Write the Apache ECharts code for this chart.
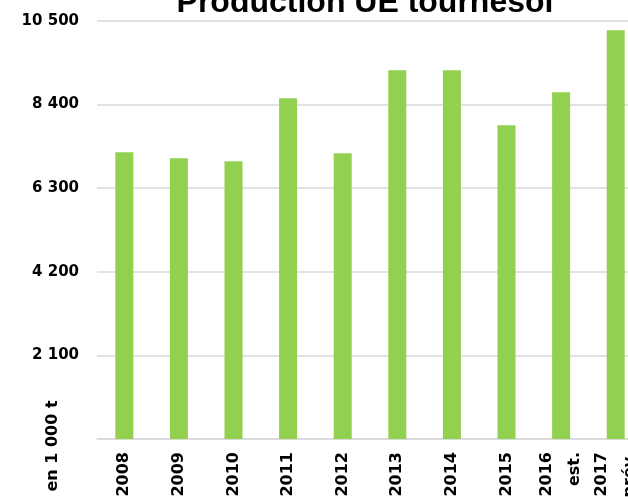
<!DOCTYPE html>
<html>
<head>
<meta charset="utf-8">
<script src="https://cdn.jsdelivr.net/npm/echarts@6/dist/echarts.min.js"></script>
<style>
html, body { margin: 0; padding: 0; background: #fff; }
#chart { width: 628px; height: 497px; }
</style>
</head>
<body>
<div id="chart"></div>
<script>
// Production UE tournesol, en 1 000 t
var years = ['2008', '2009', '2010', '2011', '2012', '2013', '2014', '2015', '2016\nest.', '2017\nprév.'];
var production = [7200, 7050, 6980, 8560, 7180, 9260, 9260, 7880, 8710, 10270];
var yTicks = [0, 2100, 4200, 6300, 8400, 10500];

function fmt(v) {
    if (v === 0) return '';
    return String(v).replace(/\B(?=(\d{3})+(?!\d))/g, ' ');
}

var option = {
    animation: false,
    title: {
        text: 'Production UE tournesol',
        left: 360,
        top: -18,
        textAlign: 'center',
        textStyle: {
            fontFamily: 'Liberation Sans',
            fontSize: 32,
            fontWeight: 'bold',
            color: '#000'
        }
    },
    grid: {
        left: 97,
        right: -15,
        top: 21,
        bottom: 58,
        containLabel: false,
        outerBoundsMode: 'none'
    },
    xAxis: {
        type: 'category',
        data: years,
        axisTick: { show: false },
        axisLine: { lineStyle: { color: '#d9d9d9', width: 1.5 } },
        axisLabel: {
            interval: 0,
            hideOverlap: false,
            rotate: 90,
            margin: 13,
            fontFamily: 'DejaVu Sans',
            fontWeight: 'bold',
            fontSize: 16,
            lineHeight: 28,
            color: '#000'
        }
    },
    yAxis: {
        type: 'value',
        min: yTicks[0],
        max: yTicks[yTicks.length - 1],
        interval: 2100,
        axisLine: { show: false },
        axisTick: { show: false },
        splitLine: { lineStyle: { color: '#d9d9d9', width: 1.5 } },
        axisLabel: {
            margin: 18,
            fontFamily: 'DejaVu Sans',
            fontWeight: 'bold',
            fontSize: 15,
            color: '#000',
            formatter: fmt
        }
    },
    graphic: [{
        type: 'text',
        x: 53,
        y: 446,
        rotation: Math.PI / 2,
        style: {
            text: 'en 1 000 t',
            fontFamily: 'DejaVu Sans',
            fontWeight: 'bold',
            fontSize: 16,
            fill: '#000',
            align: 'center',
            verticalAlign: 'middle'
        }
    }],
    series: [{
        name: 'Production',
        type: 'bar',
        barWidth: 18,
        itemStyle: { color: '#92d050' },
        data: production
    }]
};

echarts.init(document.getElementById('chart')).setOption(option);
</script>
</body>
</html>
